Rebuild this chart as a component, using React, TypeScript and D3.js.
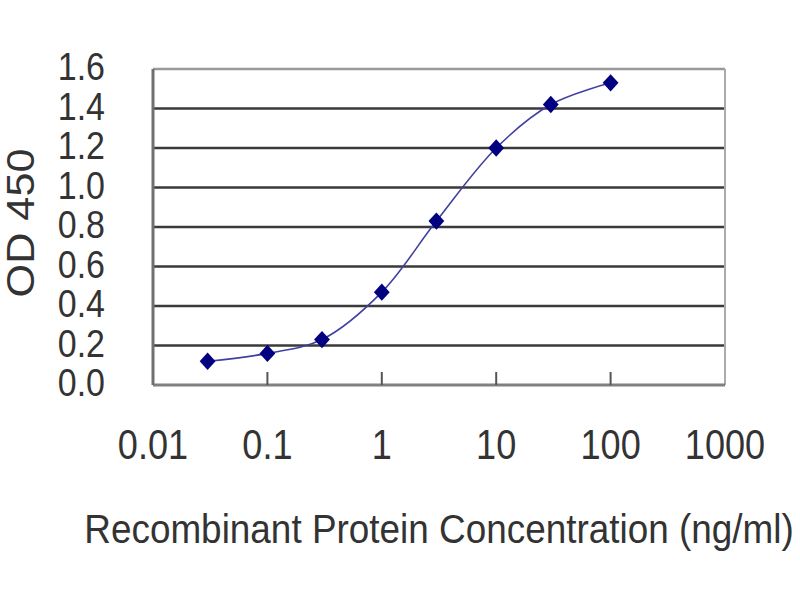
import React from "react";
import * as d3 from "d3";

const concentrations = [0.03, 0.1, 0.3, 1, 3, 10, 30, 100];
const odValues = [0.12, 0.16, 0.23, 0.47, 0.83, 1.2, 1.42, 1.53];
const xTicks = [0.01, 0.1, 1, 10, 100, 1000];
const xTickLabels = ["0.01", "0.1", "1", "10", "100", "1000"];
const yTicks = [0, 0.2, 0.4, 0.6, 0.8, 1.0, 1.2, 1.4, 1.6];
const yTickLabels = ["0.0", "0.2", "0.4", "0.6", "0.8", "1.0", "1.2", "1.4", "1.6"];
const xTitle = "Recombinant Protein Concentration (ng/ml)";
const yTitle = "OD 450";

const W = 800;
const H = 600;
const left = 153;
const right = 725;
const top = 69;
const bottom = 385;
const FONT = "'Liberation Sans', Arial, sans-serif";

export default function App() {
  const x = d3.scaleLog().domain([0.01, 1000]).range([left, right]);
  const y = d3.scaleLinear().domain([0, 1.6]).range([bottom, top]);
  const pts: [number, number][] = concentrations.map((c, i) => [x(c), y(odValues[i])]);
  const line = d3.line().curve(d3.curveCatmullRom.alpha(0.5))(pts) || "";
  const marker = d3.symbol().type(d3.symbolSquare).size(125)() || "";

  return (
    <svg
      width={W}
      height={H}
      style={{ position: "absolute", left: 0, top: 0, background: "#fff" }}
      fontFamily={FONT}
    >
      <rect x={0} y={0} width={W} height={H} fill="#fff" />
      {yTicks.slice(1, -1).map((t) => (
        <line key={t} x1={left} x2={right} y1={y(t)} y2={y(t)} stroke="#3a3a3a" strokeWidth={2.5} />
      ))}
      <line x1={left} x2={right} y1={y(1.6)} y2={y(1.6)} stroke="#999" strokeWidth={2.5} />
      <line x1={right} x2={right} y1={top} y2={bottom} stroke="#aaa" strokeWidth={2} />
      <line x1={left} x2={right} y1={bottom} y2={bottom} stroke="#808080" strokeWidth={3} />
      <line x1={left} x2={left} y1={top} y2={bottom} stroke="#707070" strokeWidth={3} />
      {xTicks.slice(1, -1).map((t) => (
        <line key={t} x1={x(t)} x2={x(t)} y1={bottom} y2={bottom - 13} stroke="#555" strokeWidth={2} />
      ))}
      {yTicks.map((t, i) => (
        <g key={t} transform={`translate(105,${y(t) - 2}) scale(1,1.12)`}>
          <text y={0} dy="0.35em" textAnchor="end" fontSize={34} fill="#333">
            {yTickLabels[i]}
          </text>
        </g>
      ))}
      {xTicks.map((t, i) => (
        <g key={t} transform={`translate(${x(t)},459) scale(0.95,1.1)`}>
          <text x={0} y={0} textAnchor="middle" fontSize={38} fill="#333">
            {xTickLabels[i]}
          </text>
        </g>
      ))}
      <path d={line} fill="none" stroke="#4040a0" strokeWidth={1.6} />
      {pts.map((p, i) => (
        <path
          key={i}
          d={marker}
          transform={`translate(${p[0]},${p[1]}) scale(1,1.1) rotate(45)`}
          fill="#000080"
        />
      ))}
      <g transform={`translate(${(left + right) / 2},543) scale(1.025,1.14)`}>
        <text x={0} y={0} textAnchor="middle" fontSize={36} fill="#333">
          {xTitle}
        </text>
      </g>
      <text
        transform={`translate(34,223) rotate(-90)`}
        textAnchor="middle"
        fontSize={38}
        fill="#333"
        textLength={149}
        lengthAdjust="spacingAndGlyphs"
      >
        {yTitle}
      </text>
    </svg>
  );
}
